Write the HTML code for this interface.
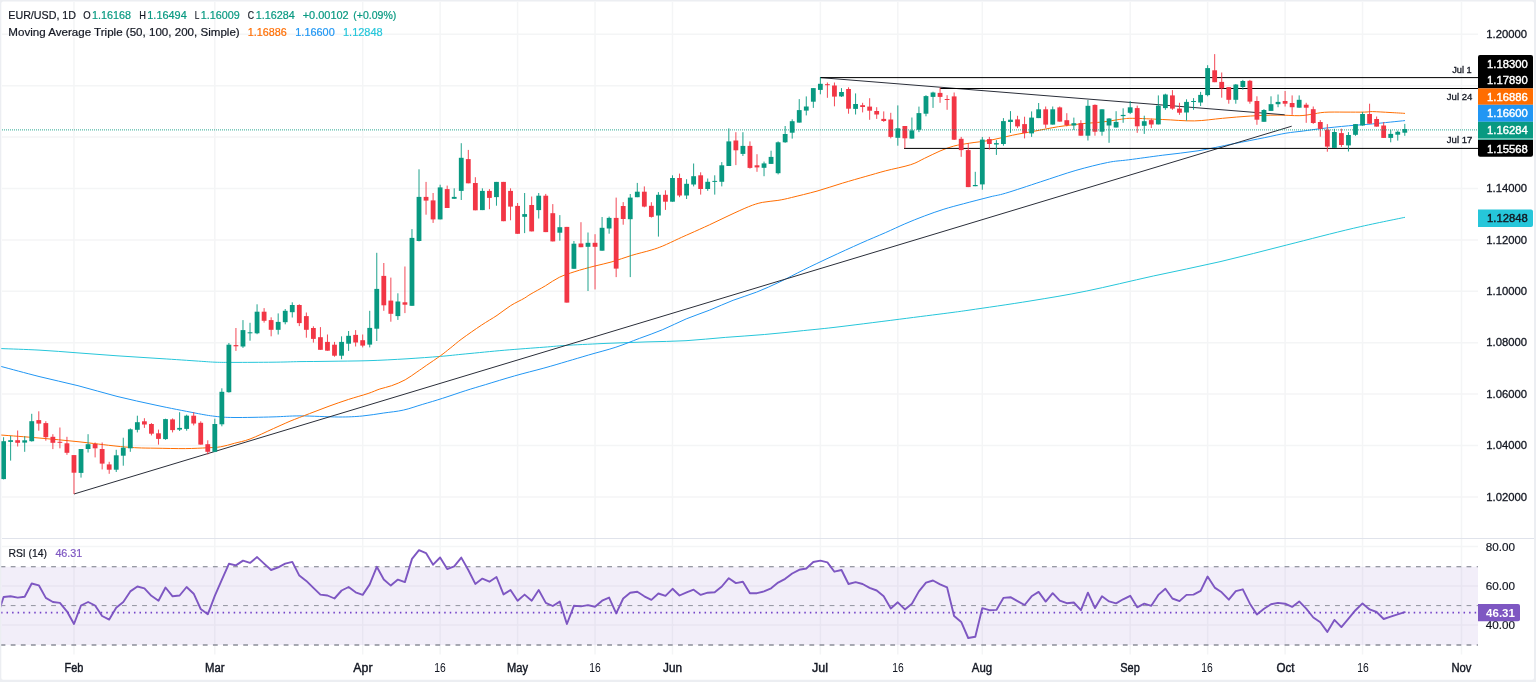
<!DOCTYPE html>
<html><head><meta charset="utf-8"><title>EUR/USD</title>
<style>html,body{margin:0;padding:0;background:#fff;}body{width:1536px;height:682px;overflow:hidden;position:relative;font-family:"Liberation Sans", sans-serif;}</style>
</head><body>
<div style="position:absolute;left:0;top:0;width:1536px;height:682px;will-change:transform">
<svg width="1536" height="682" viewBox="0 0 1536 682" style="position:absolute;left:0;top:0;font-family:'Liberation Sans',sans-serif">
<line x1="73.98" y1="2" x2="73.98" y2="654.5" stroke="#f4f5f6" stroke-width="1.5"/>
<line x1="214.81" y1="2" x2="214.81" y2="654.5" stroke="#f4f5f6" stroke-width="1.5"/>
<line x1="362.68" y1="2" x2="362.68" y2="654.5" stroke="#f4f5f6" stroke-width="1.5"/>
<line x1="440.13" y1="2" x2="440.13" y2="654.5" stroke="#f4f5f6" stroke-width="1.5"/>
<line x1="517.58" y1="2" x2="517.58" y2="654.5" stroke="#f4f5f6" stroke-width="1.5"/>
<line x1="595.04" y1="2" x2="595.04" y2="654.5" stroke="#f4f5f6" stroke-width="1.5"/>
<line x1="672.49" y1="2" x2="672.49" y2="654.5" stroke="#f4f5f6" stroke-width="1.5"/>
<line x1="820.36" y1="2" x2="820.36" y2="654.5" stroke="#f4f5f6" stroke-width="1.5"/>
<line x1="897.82" y1="2" x2="897.82" y2="654.5" stroke="#f4f5f6" stroke-width="1.5"/>
<line x1="982.31" y1="2" x2="982.31" y2="654.5" stroke="#f4f5f6" stroke-width="1.5"/>
<line x1="1130.18" y1="2" x2="1130.18" y2="654.5" stroke="#f4f5f6" stroke-width="1.5"/>
<line x1="1207.63" y1="2" x2="1207.63" y2="654.5" stroke="#f4f5f6" stroke-width="1.5"/>
<line x1="1285.09" y1="2" x2="1285.09" y2="654.5" stroke="#f4f5f6" stroke-width="1.5"/>
<line x1="1362.54" y1="2" x2="1362.54" y2="654.5" stroke="#f4f5f6" stroke-width="1.5"/>
<line x1="1461.50" y1="2" x2="1461.50" y2="654.5" stroke="#f4f5f6" stroke-width="1.5"/>
<line x1="2" y1="34.30" x2="1478" y2="34.30" stroke="#f4f5f6" stroke-width="1.5"/>
<line x1="2" y1="85.70" x2="1478" y2="85.70" stroke="#f4f5f6" stroke-width="1.5"/>
<line x1="2" y1="137.10" x2="1478" y2="137.10" stroke="#f4f5f6" stroke-width="1.5"/>
<line x1="2" y1="188.50" x2="1478" y2="188.50" stroke="#f4f5f6" stroke-width="1.5"/>
<line x1="2" y1="239.90" x2="1478" y2="239.90" stroke="#f4f5f6" stroke-width="1.5"/>
<line x1="2" y1="291.30" x2="1478" y2="291.30" stroke="#f4f5f6" stroke-width="1.5"/>
<line x1="2" y1="342.70" x2="1478" y2="342.70" stroke="#f4f5f6" stroke-width="1.5"/>
<line x1="2" y1="394.10" x2="1478" y2="394.10" stroke="#f4f5f6" stroke-width="1.5"/>
<line x1="2" y1="445.50" x2="1478" y2="445.50" stroke="#f4f5f6" stroke-width="1.5"/>
<line x1="2" y1="496.90" x2="1478" y2="496.90" stroke="#f4f5f6" stroke-width="1.5"/>
<line x1="2" y1="546.4" x2="1478" y2="546.4" stroke="#f4f5f6" stroke-width="1.5"/>
<line x1="2" y1="586.0" x2="1478" y2="586.0" stroke="#f4f5f6" stroke-width="1.5"/>
<line x1="2" y1="625.1" x2="1478" y2="625.1" stroke="#f4f5f6" stroke-width="1.5"/>
<rect x="2" y="538" width="1532" height="1" fill="#e0e3eb"/>
<rect x="1" y="566.8" width="1477" height="78.3" fill="#7e57c2" fill-opacity="0.1"/>
<line x1="1" y1="566.8" x2="1478" y2="566.8" stroke="#787b86" stroke-width="1.1" stroke-dasharray="4.8 5.31" stroke-dashoffset="0.4"/>
<line x1="1" y1="605.6" x2="1478" y2="605.6" stroke="#858893" stroke-width="0.9" stroke-dasharray="4.8 5.31" stroke-dashoffset="0.4"/>
<line x1="1" y1="645.1" x2="1478" y2="645.1" stroke="#8c8f99" stroke-width="1.5" stroke-dasharray="4.8 5.31" stroke-dashoffset="0.4"/>
<path d="M-2.0 348.5C-1.3 348.5 -4.8 348.3 2.0 348.6C8.8 348.9 26.3 349.4 39.0 350.1C51.7 350.8 65.0 351.9 78.0 352.9C91.0 353.8 104.0 354.9 117.0 355.8C130.0 356.7 143.0 357.5 156.0 358.3C169.0 359.1 185.2 360.2 195.0 360.9C204.8 361.5 208.5 361.9 215.0 362.2C221.5 362.4 224.3 362.4 234.0 362.4C243.7 362.4 262.0 362.3 273.0 362.2C284.0 362.1 290.7 361.8 300.0 361.6C309.3 361.5 317.7 361.5 329.0 361.3C340.3 361.1 355.0 361.1 368.0 360.7C381.0 360.3 394.9 359.5 407.0 358.8C419.1 358.0 430.6 357.2 440.4 356.4C450.2 355.6 455.1 354.9 465.8 353.9C476.5 352.9 491.8 351.3 504.8 350.2C517.8 349.1 533.2 348.0 543.9 347.2C554.6 346.4 558.3 345.8 569.0 345.2C579.7 344.6 595.0 343.9 608.0 343.3C621.0 342.8 634.0 342.3 647.0 341.9C660.0 341.5 673.0 341.4 686.0 340.7C699.0 339.9 712.2 338.4 725.3 337.4C738.4 336.4 751.4 335.6 764.4 334.5C777.4 333.4 790.8 331.9 803.4 330.6C816.0 329.3 822.8 328.8 840.0 326.7C857.2 324.6 888.0 320.7 906.7 318.3C925.4 315.9 941.5 313.9 952.0 312.5C962.5 311.1 957.0 311.9 970.0 310.0C983.0 308.1 1010.5 304.2 1030.0 301.0C1049.5 297.8 1066.2 295.2 1086.7 291.0C1107.2 286.8 1131.1 280.9 1153.3 276.0C1175.5 271.1 1197.8 266.9 1220.0 261.7C1242.2 256.5 1264.5 250.6 1286.7 245.0C1308.9 239.4 1333.6 232.9 1353.3 228.3C1373.0 223.7 1396.4 219.1 1405.0 217.3" fill="none" stroke="#26c6da" stroke-width="1.0" stroke-linejoin="round" stroke-linecap="butt"/>
<path d="M-2.0 365.7C-1.3 365.9 -4.8 364.9 2.0 366.7C8.8 368.5 26.3 373.3 39.0 376.5C51.7 379.7 65.0 382.4 78.0 385.7C91.0 389.0 104.0 393.1 117.0 396.4C130.0 399.6 143.0 402.4 156.0 405.2C169.0 408.0 185.2 411.1 195.0 413.0C204.8 414.9 208.5 415.6 215.0 416.3C221.5 417.1 224.3 417.4 234.0 417.5C243.7 417.6 262.0 417.2 273.0 416.9C284.0 416.6 289.0 415.9 300.0 415.9C311.0 415.9 328.4 417.0 338.8 417.0C349.2 417.0 354.8 416.7 362.3 416.0C369.8 415.3 376.9 414.0 383.8 413.0C390.6 412.0 396.8 411.6 403.3 410.1C409.8 408.7 416.3 406.2 422.8 404.3C429.3 402.4 435.1 400.7 442.3 398.4C449.5 396.1 458.6 392.9 465.8 390.6C473.0 388.3 477.2 387.1 485.3 384.7C493.4 382.2 504.8 378.7 514.6 375.9C524.4 373.1 535.1 370.5 543.9 368.1C552.7 365.7 559.8 363.5 567.3 361.3C574.8 359.1 580.5 357.4 588.6 355.0C596.7 352.6 607.4 350.0 615.9 347.2C624.4 344.4 631.6 341.3 639.4 338.4C647.2 335.5 655.0 332.9 662.8 329.6C670.6 326.4 678.4 322.1 686.2 318.9C694.1 315.6 701.9 313.2 709.7 310.1C717.5 307.0 725.3 303.3 733.1 300.3C740.9 297.3 748.8 295.2 756.6 292.1C764.4 289.0 772.2 285.5 780.0 281.8C787.8 278.1 795.1 274.1 803.4 270.0C811.7 265.9 820.4 261.8 830.0 257.3C839.6 252.8 851.7 247.3 860.9 243.2C870.1 239.1 878.0 235.9 885.3 232.7C892.6 229.5 898.3 226.7 904.8 223.9C911.3 221.1 917.9 218.4 924.4 216.0C930.9 213.6 937.4 211.2 943.9 209.2C950.4 207.2 955.7 205.8 963.4 203.8C971.1 201.7 983.0 198.7 990.0 196.9C997.0 195.1 997.1 195.7 1005.6 193.2C1014.1 190.7 1029.0 185.6 1040.7 181.8C1052.4 178.0 1064.8 173.6 1075.9 170.4C1087.1 167.2 1098.8 164.3 1107.6 162.5C1116.4 160.7 1119.5 161.0 1128.7 159.8C1137.9 158.6 1151.2 156.7 1162.8 155.2C1174.3 153.7 1186.3 152.7 1198.0 150.8C1209.7 148.9 1222.1 146.0 1233.2 143.8C1244.3 141.6 1256.0 139.4 1264.8 137.6C1273.6 135.8 1279.5 134.3 1285.9 133.2C1292.3 132.1 1297.4 131.8 1303.3 131.0C1309.2 130.2 1313.6 129.5 1321.1 128.6C1328.6 127.7 1339.8 126.6 1348.4 125.8C1357.0 125.0 1363.2 124.8 1372.6 123.9C1382.0 123.0 1399.6 121.1 1405.0 120.6" fill="none" stroke="#2196f3" stroke-width="1.0" stroke-linejoin="round" stroke-linecap="butt"/>
<path d="M-2.0 434.9C-1.3 434.9 -4.8 434.6 2.0 435.1C8.8 435.6 26.3 436.9 39.0 438.0C51.7 439.1 65.0 440.3 78.0 441.7C91.0 443.1 107.2 445.2 117.0 446.2C126.8 447.2 130.5 447.5 137.0 447.8C143.5 448.1 147.9 448.1 156.0 448.2C164.1 448.3 177.0 448.7 185.5 448.6C194.0 448.5 201.1 448.1 207.0 447.8C212.9 447.5 216.1 447.6 220.7 446.8C225.3 446.1 229.5 444.6 234.4 443.3C239.3 442.0 243.5 441.4 250.0 439.0C256.5 436.6 266.7 431.6 273.4 428.6C280.1 425.6 284.0 423.8 290.0 421.2C296.0 418.8 303.0 416.1 309.5 413.6C316.0 411.1 322.5 408.6 329.0 406.2C335.5 403.8 342.1 401.5 348.6 399.4C355.1 397.3 362.9 395.2 368.1 393.5C373.3 391.8 375.9 390.3 379.8 389.0C383.7 387.7 387.4 387.2 391.6 385.7C395.8 384.2 401.0 382.1 405.2 379.8C409.4 377.5 413.3 374.4 416.9 372.0C420.5 369.6 422.8 367.9 426.7 365.2C430.6 362.5 436.5 358.6 440.4 355.8C444.3 353.0 446.6 351.0 450.2 348.2C453.8 345.4 456.7 342.6 461.9 338.8C467.1 335.0 475.5 329.1 481.4 325.2C487.2 321.3 492.1 318.7 497.0 315.4C501.9 312.1 506.1 308.5 510.7 305.6C515.3 302.7 521.2 300.1 524.4 298.2C527.6 296.3 526.5 296.6 530.0 294.5C533.5 292.4 540.7 288.6 545.6 285.7C550.5 282.8 554.4 279.6 559.3 277.3C564.2 275.0 569.0 273.5 574.9 271.6C580.8 269.7 588.3 267.7 594.5 266.1C600.7 264.5 605.8 263.6 612.0 261.8C618.2 260.0 625.1 257.4 631.6 255.4C638.1 253.4 645.9 251.7 651.1 250.1C656.3 248.5 658.2 247.9 662.8 246.0C667.3 244.1 673.9 240.9 678.4 238.8C682.9 236.7 684.8 235.9 690.0 233.6C695.2 231.3 703.0 227.8 709.5 224.8C716.0 221.8 722.5 218.5 729.0 215.5C735.5 212.5 743.1 208.9 748.6 206.7C754.1 204.5 757.4 203.4 762.3 202.4C767.2 201.4 773.0 201.2 777.9 200.4C782.8 199.6 785.1 199.1 791.6 197.5C798.1 195.9 808.5 193.4 817.0 191.1C825.5 188.7 834.2 185.6 842.3 183.2C850.4 180.8 858.6 178.4 865.8 176.4C873.0 174.4 877.8 172.9 885.3 170.9C892.8 168.9 904.2 166.8 910.7 164.7C917.2 162.6 919.5 160.7 924.4 158.4C929.3 156.1 935.1 153.1 940.0 151.0C944.9 148.9 948.8 147.4 953.7 146.1C958.6 144.8 963.2 144.2 969.3 143.2C975.3 142.2 982.8 141.6 990.0 140.3C997.2 139.0 1005.3 136.7 1012.6 135.2C1019.9 133.7 1026.1 132.7 1033.7 131.3C1041.3 129.9 1050.4 128.0 1058.3 126.7C1066.2 125.5 1073.9 124.6 1081.2 123.8C1088.5 123.0 1095.8 122.7 1102.3 122.0C1108.8 121.3 1114.9 120.0 1119.9 119.4C1124.9 118.8 1125.1 118.3 1132.2 118.3C1139.3 118.3 1152.4 119.1 1162.8 119.5C1173.2 119.9 1184.4 121.1 1194.4 120.9C1204.4 120.7 1213.2 119.1 1222.6 118.3C1232.0 117.5 1241.6 116.5 1250.7 116.0C1259.8 115.5 1269.0 115.1 1277.1 115.1C1285.2 115.0 1293.3 115.8 1299.1 115.7C1304.9 115.6 1307.8 114.8 1312.0 114.2C1316.2 113.6 1318.9 112.7 1324.4 112.3C1329.9 111.9 1338.3 112.1 1345.0 112.1C1351.7 112.1 1359.9 112.2 1364.5 112.1C1369.1 112.0 1368.3 111.5 1372.6 111.6C1376.8 111.7 1384.6 112.2 1390.0 112.5C1395.4 112.8 1402.5 113.2 1405.0 113.4" fill="none" stroke="#ff6d00" stroke-width="1.0" stroke-linejoin="round" stroke-linecap="butt"/>
<line x1="74" y1="494" x2="1291.7" y2="126.2" stroke="#2a2e39" stroke-width="1"/>
<line x1="820" y1="77.6" x2="1284.7" y2="114.8" stroke="#2a2e39" stroke-width="1"/>
<rect x="820" y="77.1" width="658" height="1" fill="#000"/>
<rect x="940" y="88" width="538" height="1" fill="#000"/>
<rect x="904" y="147.9" width="574" height="1" fill="#000"/>
<g>
<rect x="3.07" y="437.2" width="1" height="42.2" fill="#089981" fill-opacity="0.9"/>
<rect x="1.17" y="441.2" width="4.8" height="37.9" fill="#089981"/>
<rect x="10.11" y="435.9" width="1" height="24.7" fill="#089981" fill-opacity="0.9"/>
<rect x="8.21" y="440.2" width="4.8" height="1.7" fill="#089981"/>
<rect x="17.15" y="430.5" width="1" height="16.0" fill="#f23645" fill-opacity="0.9"/>
<rect x="15.25" y="440.2" width="4.8" height="2.6" fill="#f23645"/>
<rect x="24.19" y="436.3" width="1" height="15.5" fill="#089981" fill-opacity="0.9"/>
<rect x="22.29" y="440.3" width="4.8" height="2.3" fill="#089981"/>
<rect x="31.24" y="413.8" width="1" height="27.8" fill="#089981" fill-opacity="0.9"/>
<rect x="29.34" y="421.2" width="4.8" height="20.0" fill="#089981"/>
<rect x="38.28" y="411.3" width="1" height="19.4" fill="#f23645" fill-opacity="0.9"/>
<rect x="36.38" y="420.1" width="4.8" height="3.5" fill="#f23645"/>
<rect x="45.32" y="421.2" width="1" height="19.5" fill="#f23645" fill-opacity="0.9"/>
<rect x="43.42" y="423.1" width="4.8" height="14.1" fill="#f23645"/>
<rect x="52.36" y="434.2" width="1" height="14.9" fill="#f23645" fill-opacity="0.9"/>
<rect x="50.46" y="436.8" width="4.8" height="6.0" fill="#f23645"/>
<rect x="59.40" y="427.5" width="1" height="20.8" fill="#f23645" fill-opacity="0.9"/>
<rect x="57.50" y="441.8" width="4.8" height="1.0" fill="#f23645"/>
<rect x="66.44" y="436.8" width="1" height="18.0" fill="#f23645" fill-opacity="0.9"/>
<rect x="64.54" y="443.3" width="4.8" height="9.5" fill="#f23645"/>
<rect x="73.48" y="455.1" width="1" height="38.9" fill="#f23645" fill-opacity="0.9"/>
<rect x="71.58" y="455.1" width="4.8" height="17.6" fill="#f23645"/>
<rect x="80.52" y="449.0" width="1" height="28.6" fill="#089981" fill-opacity="0.9"/>
<rect x="78.62" y="449.0" width="4.8" height="23.9" fill="#089981"/>
<rect x="87.57" y="434.2" width="1" height="18.3" fill="#089981" fill-opacity="0.9"/>
<rect x="85.67" y="444.2" width="4.8" height="4.8" fill="#089981"/>
<rect x="94.61" y="442.5" width="1" height="14.9" fill="#f23645" fill-opacity="0.9"/>
<rect x="92.71" y="443.9" width="4.8" height="4.4" fill="#f23645"/>
<rect x="101.65" y="442.5" width="1" height="26.9" fill="#f23645" fill-opacity="0.9"/>
<rect x="99.75" y="449.0" width="4.8" height="14.6" fill="#f23645"/>
<rect x="108.69" y="461.8" width="1" height="12.0" fill="#f23645" fill-opacity="0.9"/>
<rect x="106.79" y="464.4" width="4.8" height="5.3" fill="#f23645"/>
<rect x="115.73" y="449.8" width="1" height="22.2" fill="#089981" fill-opacity="0.9"/>
<rect x="113.83" y="455.3" width="4.8" height="14.4" fill="#089981"/>
<rect x="122.77" y="437.7" width="1" height="28.0" fill="#089981" fill-opacity="0.9"/>
<rect x="120.87" y="447.7" width="4.8" height="8.0" fill="#089981"/>
<rect x="129.81" y="428.4" width="1" height="23.4" fill="#089981" fill-opacity="0.9"/>
<rect x="127.91" y="429.3" width="4.8" height="19.0" fill="#089981"/>
<rect x="136.85" y="415.7" width="1" height="16.7" fill="#089981" fill-opacity="0.9"/>
<rect x="134.95" y="422.2" width="4.8" height="7.6" fill="#089981"/>
<rect x="143.90" y="418.2" width="1" height="9.7" fill="#f23645" fill-opacity="0.9"/>
<rect x="142.00" y="421.3" width="4.8" height="3.2" fill="#f23645"/>
<rect x="150.94" y="423.1" width="1" height="12.3" fill="#f23645" fill-opacity="0.9"/>
<rect x="149.04" y="424.0" width="4.8" height="9.7" fill="#f23645"/>
<rect x="157.98" y="429.6" width="1" height="15.0" fill="#f23645" fill-opacity="0.9"/>
<rect x="156.08" y="433.3" width="4.8" height="5.6" fill="#f23645"/>
<rect x="165.02" y="418.7" width="1" height="21.1" fill="#089981" fill-opacity="0.9"/>
<rect x="163.12" y="419.1" width="4.8" height="20.0" fill="#089981"/>
<rect x="172.06" y="418.4" width="1" height="14.0" fill="#f23645" fill-opacity="0.9"/>
<rect x="170.16" y="419.4" width="4.8" height="10.7" fill="#f23645"/>
<rect x="179.10" y="412.2" width="1" height="18.8" fill="#089981" fill-opacity="0.9"/>
<rect x="177.20" y="427.9" width="4.8" height="1.7" fill="#089981"/>
<rect x="186.14" y="414.7" width="1" height="16.0" fill="#089981" fill-opacity="0.9"/>
<rect x="184.24" y="415.7" width="4.8" height="13.2" fill="#089981"/>
<rect x="193.19" y="412.2" width="1" height="13.2" fill="#f23645" fill-opacity="0.9"/>
<rect x="191.29" y="415.7" width="4.8" height="7.8" fill="#f23645"/>
<rect x="200.23" y="421.3" width="1" height="23.3" fill="#f23645" fill-opacity="0.9"/>
<rect x="198.33" y="422.8" width="4.8" height="21.8" fill="#f23645"/>
<rect x="207.27" y="440.3" width="1" height="14.1" fill="#f23645" fill-opacity="0.9"/>
<rect x="205.37" y="444.2" width="4.8" height="7.6" fill="#f23645"/>
<rect x="214.31" y="418.7" width="1" height="33.4" fill="#089981" fill-opacity="0.9"/>
<rect x="212.41" y="424.0" width="4.8" height="27.8" fill="#089981"/>
<rect x="221.35" y="388.3" width="1" height="38.0" fill="#089981" fill-opacity="0.9"/>
<rect x="219.45" y="391.8" width="4.8" height="32.5" fill="#089981"/>
<rect x="228.39" y="343.0" width="1" height="49.6" fill="#089981" fill-opacity="0.9"/>
<rect x="226.49" y="344.7" width="4.8" height="47.5" fill="#089981"/>
<rect x="235.43" y="328.0" width="1" height="22.9" fill="#f23645" fill-opacity="0.9"/>
<rect x="233.53" y="345.1" width="4.8" height="1.2" fill="#f23645"/>
<rect x="242.47" y="320.1" width="1" height="27.8" fill="#089981" fill-opacity="0.9"/>
<rect x="240.57" y="330.1" width="4.8" height="16.4" fill="#089981"/>
<rect x="249.52" y="322.8" width="1" height="17.9" fill="#089981" fill-opacity="0.9"/>
<rect x="247.62" y="332.3" width="4.8" height="1.0" fill="#089981"/>
<rect x="256.56" y="304.3" width="1" height="29.9" fill="#089981" fill-opacity="0.9"/>
<rect x="254.66" y="311.7" width="4.8" height="21.6" fill="#089981"/>
<rect x="263.60" y="308.1" width="1" height="14.5" fill="#f23645" fill-opacity="0.9"/>
<rect x="261.70" y="311.7" width="4.8" height="9.1" fill="#f23645"/>
<rect x="270.64" y="317.3" width="1" height="19.0" fill="#f23645" fill-opacity="0.9"/>
<rect x="268.74" y="320.1" width="4.8" height="9.7" fill="#f23645"/>
<rect x="277.68" y="313.4" width="1" height="21.1" fill="#089981" fill-opacity="0.9"/>
<rect x="275.78" y="321.9" width="4.8" height="7.9" fill="#089981"/>
<rect x="284.72" y="309.0" width="1" height="15.3" fill="#089981" fill-opacity="0.9"/>
<rect x="282.82" y="310.8" width="4.8" height="11.4" fill="#089981"/>
<rect x="291.76" y="302.3" width="1" height="15.2" fill="#089981" fill-opacity="0.9"/>
<rect x="289.86" y="305.0" width="4.8" height="7.2" fill="#089981"/>
<rect x="298.80" y="304.3" width="1" height="21.8" fill="#f23645" fill-opacity="0.9"/>
<rect x="296.90" y="305.0" width="4.8" height="18.1" fill="#f23645"/>
<rect x="305.85" y="312.5" width="1" height="25.2" fill="#f23645" fill-opacity="0.9"/>
<rect x="303.95" y="316.1" width="4.8" height="13.7" fill="#f23645"/>
<rect x="312.89" y="326.3" width="1" height="16.3" fill="#f23645" fill-opacity="0.9"/>
<rect x="310.99" y="328.0" width="4.8" height="10.9" fill="#f23645"/>
<rect x="319.93" y="327.1" width="1" height="22.7" fill="#f23645" fill-opacity="0.9"/>
<rect x="318.03" y="337.2" width="4.8" height="12.6" fill="#f23645"/>
<rect x="326.97" y="334.5" width="1" height="16.2" fill="#f23645" fill-opacity="0.9"/>
<rect x="325.07" y="341.9" width="4.8" height="8.8" fill="#f23645"/>
<rect x="334.01" y="341.9" width="1" height="14.8" fill="#f23645" fill-opacity="0.9"/>
<rect x="332.11" y="344.7" width="4.8" height="11.0" fill="#f23645"/>
<rect x="341.05" y="336.3" width="1" height="22.9" fill="#089981" fill-opacity="0.9"/>
<rect x="339.15" y="341.9" width="4.8" height="13.8" fill="#089981"/>
<rect x="348.09" y="331.0" width="1" height="19.9" fill="#089981" fill-opacity="0.9"/>
<rect x="346.19" y="335.8" width="4.8" height="7.9" fill="#089981"/>
<rect x="355.13" y="330.1" width="1" height="16.4" fill="#f23645" fill-opacity="0.9"/>
<rect x="353.24" y="334.9" width="4.8" height="7.6" fill="#f23645"/>
<rect x="362.18" y="334.5" width="1" height="12.9" fill="#f23645" fill-opacity="0.9"/>
<rect x="360.28" y="340.2" width="4.8" height="5.4" fill="#f23645"/>
<rect x="369.22" y="310.8" width="1" height="36.6" fill="#089981" fill-opacity="0.9"/>
<rect x="367.32" y="327.9" width="4.8" height="16.7" fill="#089981"/>
<rect x="376.26" y="252.8" width="1" height="88.2" fill="#089981" fill-opacity="0.9"/>
<rect x="374.36" y="288.9" width="4.8" height="39.8" fill="#089981"/>
<rect x="383.30" y="263.0" width="1" height="47.8" fill="#f23645" fill-opacity="0.9"/>
<rect x="381.40" y="275.9" width="4.8" height="29.4" fill="#f23645"/>
<rect x="390.34" y="277.6" width="1" height="44.1" fill="#f23645" fill-opacity="0.9"/>
<rect x="388.44" y="300.6" width="4.8" height="13.2" fill="#f23645"/>
<rect x="397.38" y="293.3" width="1" height="26.6" fill="#089981" fill-opacity="0.9"/>
<rect x="395.48" y="301.5" width="4.8" height="14.6" fill="#089981"/>
<rect x="404.42" y="266.5" width="1" height="46.6" fill="#f23645" fill-opacity="0.9"/>
<rect x="402.52" y="302.3" width="4.8" height="2.4" fill="#f23645"/>
<rect x="411.47" y="229.1" width="1" height="76.7" fill="#089981" fill-opacity="0.9"/>
<rect x="409.57" y="237.9" width="4.8" height="67.9" fill="#089981"/>
<rect x="418.51" y="169.3" width="1" height="72.1" fill="#089981" fill-opacity="0.9"/>
<rect x="416.61" y="196.9" width="4.8" height="44.1" fill="#089981"/>
<rect x="425.55" y="181.9" width="1" height="32.8" fill="#f23645" fill-opacity="0.9"/>
<rect x="423.65" y="196.9" width="4.8" height="3.7" fill="#f23645"/>
<rect x="432.59" y="193.0" width="1" height="29.9" fill="#f23645" fill-opacity="0.9"/>
<rect x="430.69" y="200.4" width="4.8" height="19.0" fill="#f23645"/>
<rect x="439.63" y="184.7" width="1" height="34.7" fill="#089981" fill-opacity="0.9"/>
<rect x="437.73" y="187.4" width="4.8" height="32.0" fill="#089981"/>
<rect x="446.67" y="185.6" width="1" height="22.4" fill="#f23645" fill-opacity="0.9"/>
<rect x="444.77" y="189.1" width="4.8" height="18.9" fill="#f23645"/>
<rect x="453.71" y="188.3" width="1" height="10.5" fill="#089981" fill-opacity="0.9"/>
<rect x="451.81" y="196.9" width="4.8" height="1.9" fill="#089981"/>
<rect x="460.75" y="143.2" width="1" height="56.8" fill="#089981" fill-opacity="0.9"/>
<rect x="458.85" y="157.8" width="4.8" height="33.1" fill="#089981"/>
<rect x="467.80" y="149.9" width="1" height="33.4" fill="#f23645" fill-opacity="0.9"/>
<rect x="465.90" y="159.1" width="4.8" height="24.2" fill="#f23645"/>
<rect x="474.84" y="177.2" width="1" height="33.1" fill="#f23645" fill-opacity="0.9"/>
<rect x="472.94" y="183.0" width="4.8" height="27.3" fill="#f23645"/>
<rect x="481.88" y="188.3" width="1" height="21.8" fill="#089981" fill-opacity="0.9"/>
<rect x="479.98" y="190.9" width="4.8" height="19.2" fill="#089981"/>
<rect x="488.92" y="189.1" width="1" height="20.1" fill="#f23645" fill-opacity="0.9"/>
<rect x="487.02" y="190.9" width="4.8" height="7.0" fill="#f23645"/>
<rect x="495.96" y="181.9" width="1" height="23.8" fill="#089981" fill-opacity="0.9"/>
<rect x="494.06" y="181.9" width="4.8" height="15.2" fill="#089981"/>
<rect x="503.00" y="181.9" width="1" height="39.3" fill="#f23645" fill-opacity="0.9"/>
<rect x="501.10" y="181.9" width="4.8" height="39.3" fill="#f23645"/>
<rect x="510.04" y="188.3" width="1" height="32.0" fill="#f23645" fill-opacity="0.9"/>
<rect x="508.14" y="190.9" width="4.8" height="15.7" fill="#f23645"/>
<rect x="517.08" y="203.0" width="1" height="30.8" fill="#f23645" fill-opacity="0.9"/>
<rect x="515.18" y="205.9" width="4.8" height="27.9" fill="#f23645"/>
<rect x="524.13" y="193.0" width="1" height="40.1" fill="#089981" fill-opacity="0.9"/>
<rect x="522.23" y="214.1" width="4.8" height="2.7" fill="#089981"/>
<rect x="531.17" y="196.5" width="1" height="34.9" fill="#f23645" fill-opacity="0.9"/>
<rect x="529.27" y="205.0" width="4.8" height="26.4" fill="#f23645"/>
<rect x="538.21" y="193.0" width="1" height="25.5" fill="#089981" fill-opacity="0.9"/>
<rect x="536.31" y="195.7" width="4.8" height="14.4" fill="#089981"/>
<rect x="545.25" y="193.9" width="1" height="38.2" fill="#f23645" fill-opacity="0.9"/>
<rect x="543.35" y="195.7" width="4.8" height="36.4" fill="#f23645"/>
<rect x="552.29" y="204.1" width="1" height="37.3" fill="#f23645" fill-opacity="0.9"/>
<rect x="550.39" y="213.2" width="4.8" height="28.2" fill="#f23645"/>
<rect x="559.33" y="215.1" width="1" height="25.6" fill="#089981" fill-opacity="0.9"/>
<rect x="557.43" y="227.2" width="4.8" height="5.5" fill="#089981"/>
<rect x="566.37" y="226.9" width="1" height="75.7" fill="#f23645" fill-opacity="0.9"/>
<rect x="564.47" y="226.9" width="4.8" height="75.7" fill="#f23645"/>
<rect x="573.42" y="241.0" width="1" height="27.8" fill="#089981" fill-opacity="0.9"/>
<rect x="571.52" y="243.7" width="4.8" height="25.1" fill="#089981"/>
<rect x="580.46" y="222.2" width="1" height="25.0" fill="#f23645" fill-opacity="0.9"/>
<rect x="578.56" y="243.5" width="4.8" height="3.7" fill="#f23645"/>
<rect x="587.50" y="232.5" width="1" height="58.5" fill="#089981" fill-opacity="0.9"/>
<rect x="585.60" y="242.8" width="4.8" height="4.0" fill="#089981"/>
<rect x="594.54" y="234.2" width="1" height="55.2" fill="#f23645" fill-opacity="0.9"/>
<rect x="592.64" y="242.8" width="4.8" height="4.0" fill="#f23645"/>
<rect x="601.58" y="217.0" width="1" height="33.7" fill="#089981" fill-opacity="0.9"/>
<rect x="599.68" y="227.8" width="4.8" height="22.9" fill="#089981"/>
<rect x="608.62" y="216.6" width="1" height="17.1" fill="#089981" fill-opacity="0.9"/>
<rect x="606.72" y="217.9" width="4.8" height="10.6" fill="#089981"/>
<rect x="615.66" y="197.6" width="1" height="79.5" fill="#f23645" fill-opacity="0.9"/>
<rect x="613.76" y="217.9" width="4.8" height="50.7" fill="#f23645"/>
<rect x="622.70" y="202.1" width="1" height="22.6" fill="#f23645" fill-opacity="0.9"/>
<rect x="620.80" y="206.0" width="4.8" height="13.0" fill="#f23645"/>
<rect x="629.75" y="194.0" width="1" height="83.1" fill="#089981" fill-opacity="0.9"/>
<rect x="627.85" y="197.6" width="4.8" height="21.6" fill="#089981"/>
<rect x="636.79" y="182.9" width="1" height="14.3" fill="#089981" fill-opacity="0.9"/>
<rect x="634.89" y="191.7" width="4.8" height="5.5" fill="#089981"/>
<rect x="643.83" y="186.4" width="1" height="20.9" fill="#f23645" fill-opacity="0.9"/>
<rect x="641.93" y="191.7" width="4.8" height="14.9" fill="#f23645"/>
<rect x="650.87" y="202.2" width="1" height="15.4" fill="#f23645" fill-opacity="0.9"/>
<rect x="648.97" y="205.8" width="4.8" height="11.1" fill="#f23645"/>
<rect x="657.91" y="192.1" width="1" height="44.5" fill="#089981" fill-opacity="0.9"/>
<rect x="656.01" y="194.8" width="4.8" height="20.7" fill="#089981"/>
<rect x="664.95" y="190.3" width="1" height="19.6" fill="#f23645" fill-opacity="0.9"/>
<rect x="663.05" y="194.8" width="4.8" height="6.9" fill="#f23645"/>
<rect x="671.99" y="175.3" width="1" height="26.4" fill="#089981" fill-opacity="0.9"/>
<rect x="670.09" y="178.0" width="4.8" height="23.7" fill="#089981"/>
<rect x="679.03" y="173.6" width="1" height="23.6" fill="#f23645" fill-opacity="0.9"/>
<rect x="677.13" y="178.0" width="4.8" height="17.5" fill="#f23645"/>
<rect x="686.08" y="179.2" width="1" height="19.8" fill="#089981" fill-opacity="0.9"/>
<rect x="684.18" y="183.8" width="4.8" height="11.7" fill="#089981"/>
<rect x="693.12" y="163.5" width="1" height="22.9" fill="#089981" fill-opacity="0.9"/>
<rect x="691.22" y="176.2" width="4.8" height="8.3" fill="#089981"/>
<rect x="700.16" y="172.3" width="1" height="22.3" fill="#f23645" fill-opacity="0.9"/>
<rect x="698.26" y="175.3" width="4.8" height="13.7" fill="#f23645"/>
<rect x="707.20" y="178.5" width="1" height="12.3" fill="#089981" fill-opacity="0.9"/>
<rect x="705.30" y="181.8" width="4.8" height="7.2" fill="#089981"/>
<rect x="714.24" y="175.3" width="1" height="19.3" fill="#089981" fill-opacity="0.9"/>
<rect x="712.34" y="180.9" width="4.8" height="1.0" fill="#089981"/>
<rect x="721.28" y="162.1" width="1" height="24.3" fill="#089981" fill-opacity="0.9"/>
<rect x="719.38" y="165.3" width="4.8" height="16.5" fill="#089981"/>
<rect x="728.32" y="128.4" width="1" height="37.6" fill="#089981" fill-opacity="0.9"/>
<rect x="726.42" y="141.4" width="4.8" height="24.6" fill="#089981"/>
<rect x="735.37" y="132.2" width="1" height="32.9" fill="#f23645" fill-opacity="0.9"/>
<rect x="733.47" y="140.5" width="4.8" height="9.8" fill="#f23645"/>
<rect x="742.41" y="132.2" width="1" height="23.8" fill="#089981" fill-opacity="0.9"/>
<rect x="740.51" y="145.9" width="4.8" height="8.0" fill="#089981"/>
<rect x="749.45" y="141.4" width="1" height="27.2" fill="#f23645" fill-opacity="0.9"/>
<rect x="747.55" y="145.9" width="4.8" height="22.0" fill="#f23645"/>
<rect x="756.49" y="154.2" width="1" height="17.6" fill="#f23645" fill-opacity="0.9"/>
<rect x="754.59" y="165.3" width="4.8" height="2.1" fill="#f23645"/>
<rect x="763.53" y="161.6" width="1" height="14.6" fill="#089981" fill-opacity="0.9"/>
<rect x="761.63" y="163.4" width="4.8" height="4.4" fill="#089981"/>
<rect x="770.57" y="150.7" width="1" height="13.2" fill="#089981" fill-opacity="0.9"/>
<rect x="768.67" y="156.9" width="4.8" height="7.0" fill="#089981"/>
<rect x="777.61" y="141.4" width="1" height="33.0" fill="#089981" fill-opacity="0.9"/>
<rect x="775.71" y="142.3" width="4.8" height="30.9" fill="#089981"/>
<rect x="784.65" y="126.0" width="1" height="16.8" fill="#089981" fill-opacity="0.9"/>
<rect x="782.75" y="134.0" width="4.8" height="8.3" fill="#089981"/>
<rect x="791.70" y="119.3" width="1" height="19.3" fill="#089981" fill-opacity="0.9"/>
<rect x="789.80" y="121.2" width="4.8" height="11.5" fill="#089981"/>
<rect x="798.74" y="99.1" width="1" height="23.5" fill="#089981" fill-opacity="0.9"/>
<rect x="796.84" y="110.1" width="4.8" height="12.5" fill="#089981"/>
<rect x="805.78" y="96.4" width="1" height="19.0" fill="#089981" fill-opacity="0.9"/>
<rect x="803.88" y="106.5" width="4.8" height="4.1" fill="#089981"/>
<rect x="812.82" y="88.1" width="1" height="19.8" fill="#089981" fill-opacity="0.9"/>
<rect x="810.92" y="88.1" width="4.8" height="13.6" fill="#089981"/>
<rect x="819.86" y="77.2" width="1" height="17.1" fill="#089981" fill-opacity="0.9"/>
<rect x="817.96" y="83.8" width="4.8" height="6.1" fill="#089981"/>
<rect x="826.90" y="82.5" width="1" height="15.3" fill="#f23645" fill-opacity="0.9"/>
<rect x="825.00" y="84.2" width="4.8" height="1.0" fill="#f23645"/>
<rect x="833.94" y="82.5" width="1" height="23.8" fill="#f23645" fill-opacity="0.9"/>
<rect x="832.04" y="85.5" width="4.8" height="11.1" fill="#f23645"/>
<rect x="840.98" y="88.1" width="1" height="8.9" fill="#089981" fill-opacity="0.9"/>
<rect x="839.08" y="92.0" width="4.8" height="4.4" fill="#089981"/>
<rect x="848.03" y="87.3" width="1" height="26.4" fill="#f23645" fill-opacity="0.9"/>
<rect x="846.13" y="89.0" width="4.8" height="19.7" fill="#f23645"/>
<rect x="855.07" y="93.4" width="1" height="21.1" fill="#089981" fill-opacity="0.9"/>
<rect x="853.17" y="104.0" width="4.8" height="4.9" fill="#089981"/>
<rect x="862.11" y="102.8" width="1" height="9.6" fill="#f23645" fill-opacity="0.9"/>
<rect x="860.21" y="105.2" width="4.8" height="1.8" fill="#f23645"/>
<rect x="869.15" y="98.2" width="1" height="21.6" fill="#f23645" fill-opacity="0.9"/>
<rect x="867.25" y="106.6" width="4.8" height="4.1" fill="#f23645"/>
<rect x="876.19" y="107.2" width="1" height="11.7" fill="#f23645" fill-opacity="0.9"/>
<rect x="874.29" y="111.0" width="4.8" height="3.5" fill="#f23645"/>
<rect x="883.23" y="111.4" width="1" height="10.5" fill="#f23645" fill-opacity="0.9"/>
<rect x="881.33" y="118.9" width="4.8" height="2.1" fill="#f23645"/>
<rect x="890.27" y="112.8" width="1" height="25.5" fill="#f23645" fill-opacity="0.9"/>
<rect x="888.37" y="119.5" width="4.8" height="17.4" fill="#f23645"/>
<rect x="897.32" y="105.4" width="1" height="40.3" fill="#089981" fill-opacity="0.9"/>
<rect x="895.42" y="128.3" width="4.8" height="9.5" fill="#089981"/>
<rect x="904.36" y="126.0" width="1" height="22.3" fill="#f23645" fill-opacity="0.9"/>
<rect x="902.46" y="126.0" width="4.8" height="12.3" fill="#f23645"/>
<rect x="911.40" y="117.5" width="1" height="21.1" fill="#089981" fill-opacity="0.9"/>
<rect x="909.50" y="130.4" width="4.8" height="8.2" fill="#089981"/>
<rect x="918.44" y="106.6" width="1" height="25.5" fill="#089981" fill-opacity="0.9"/>
<rect x="916.54" y="113.1" width="4.8" height="16.7" fill="#089981"/>
<rect x="925.48" y="95.2" width="1" height="21.1" fill="#089981" fill-opacity="0.9"/>
<rect x="923.58" y="96.1" width="4.8" height="17.6" fill="#089981"/>
<rect x="932.52" y="91.7" width="1" height="16.2" fill="#089981" fill-opacity="0.9"/>
<rect x="930.62" y="92.5" width="4.8" height="4.4" fill="#089981"/>
<rect x="939.56" y="87.6" width="1" height="15.2" fill="#f23645" fill-opacity="0.9"/>
<rect x="937.66" y="92.9" width="4.8" height="4.0" fill="#f23645"/>
<rect x="946.60" y="95.2" width="1" height="14.6" fill="#f23645" fill-opacity="0.9"/>
<rect x="944.70" y="99.0" width="4.8" height="1.0" fill="#f23645"/>
<rect x="953.65" y="92.5" width="1" height="47.5" fill="#f23645" fill-opacity="0.9"/>
<rect x="951.75" y="96.4" width="4.8" height="43.3" fill="#f23645"/>
<rect x="960.69" y="136.9" width="1" height="19.9" fill="#f23645" fill-opacity="0.9"/>
<rect x="958.79" y="138.8" width="4.8" height="11.3" fill="#f23645"/>
<rect x="967.73" y="143.1" width="1" height="44.0" fill="#f23645" fill-opacity="0.9"/>
<rect x="965.83" y="150.1" width="4.8" height="37.0" fill="#f23645"/>
<rect x="974.77" y="171.8" width="1" height="14.4" fill="#089981" fill-opacity="0.9"/>
<rect x="972.87" y="185.0" width="4.8" height="1.2" fill="#089981"/>
<rect x="981.81" y="136.9" width="1" height="52.8" fill="#089981" fill-opacity="0.9"/>
<rect x="979.91" y="139.6" width="4.8" height="44.8" fill="#089981"/>
<rect x="988.85" y="136.9" width="1" height="12.7" fill="#f23645" fill-opacity="0.9"/>
<rect x="986.95" y="139.1" width="4.8" height="4.9" fill="#f23645"/>
<rect x="995.89" y="140.1" width="1" height="14.8" fill="#089981" fill-opacity="0.9"/>
<rect x="993.99" y="143.1" width="4.8" height="1.4" fill="#089981"/>
<rect x="1002.93" y="118.1" width="1" height="27.6" fill="#089981" fill-opacity="0.9"/>
<rect x="1001.03" y="121.1" width="4.8" height="22.9" fill="#089981"/>
<rect x="1009.98" y="111.1" width="1" height="21.8" fill="#089981" fill-opacity="0.9"/>
<rect x="1008.08" y="119.7" width="4.8" height="2.3" fill="#089981"/>
<rect x="1017.02" y="115.8" width="1" height="12.3" fill="#f23645" fill-opacity="0.9"/>
<rect x="1015.12" y="119.4" width="4.8" height="7.0" fill="#f23645"/>
<rect x="1024.06" y="116.7" width="1" height="21.7" fill="#f23645" fill-opacity="0.9"/>
<rect x="1022.16" y="124.1" width="4.8" height="9.0" fill="#f23645"/>
<rect x="1031.10" y="111.4" width="1" height="25.5" fill="#089981" fill-opacity="0.9"/>
<rect x="1029.20" y="117.6" width="4.8" height="15.8" fill="#089981"/>
<rect x="1038.14" y="103.0" width="1" height="15.1" fill="#089981" fill-opacity="0.9"/>
<rect x="1036.24" y="109.3" width="4.8" height="8.8" fill="#089981"/>
<rect x="1045.18" y="106.5" width="1" height="21.6" fill="#f23645" fill-opacity="0.9"/>
<rect x="1043.28" y="109.3" width="4.8" height="15.3" fill="#f23645"/>
<rect x="1052.22" y="106.5" width="1" height="18.1" fill="#089981" fill-opacity="0.9"/>
<rect x="1050.32" y="109.3" width="4.8" height="15.3" fill="#089981"/>
<rect x="1059.26" y="106.5" width="1" height="15.1" fill="#f23645" fill-opacity="0.9"/>
<rect x="1057.36" y="107.4" width="4.8" height="14.2" fill="#f23645"/>
<rect x="1066.31" y="113.2" width="1" height="13.2" fill="#f23645" fill-opacity="0.9"/>
<rect x="1064.41" y="120.2" width="4.8" height="4.8" fill="#f23645"/>
<rect x="1073.35" y="117.6" width="1" height="12.3" fill="#089981" fill-opacity="0.9"/>
<rect x="1071.45" y="123.2" width="4.8" height="2.3" fill="#089981"/>
<rect x="1080.39" y="120.2" width="1" height="15.5" fill="#f23645" fill-opacity="0.9"/>
<rect x="1078.49" y="123.2" width="4.8" height="12.5" fill="#f23645"/>
<rect x="1087.43" y="100.0" width="1" height="40.5" fill="#089981" fill-opacity="0.9"/>
<rect x="1085.53" y="105.8" width="4.8" height="29.9" fill="#089981"/>
<rect x="1094.47" y="104.4" width="1" height="31.3" fill="#f23645" fill-opacity="0.9"/>
<rect x="1092.57" y="104.9" width="4.8" height="26.8" fill="#f23645"/>
<rect x="1101.51" y="109.3" width="1" height="26.4" fill="#089981" fill-opacity="0.9"/>
<rect x="1099.61" y="109.3" width="4.8" height="22.4" fill="#089981"/>
<rect x="1108.55" y="118.1" width="1" height="24.7" fill="#089981" fill-opacity="0.9"/>
<rect x="1106.65" y="118.5" width="4.8" height="7.0" fill="#089981"/>
<rect x="1115.60" y="111.2" width="1" height="16.3" fill="#089981" fill-opacity="0.9"/>
<rect x="1113.70" y="121.9" width="4.8" height="5.6" fill="#089981"/>
<rect x="1122.64" y="108.3" width="1" height="14.5" fill="#089981" fill-opacity="0.9"/>
<rect x="1120.74" y="114.9" width="4.8" height="1.2" fill="#089981"/>
<rect x="1129.68" y="101.0" width="1" height="13.0" fill="#089981" fill-opacity="0.9"/>
<rect x="1127.78" y="107.3" width="4.8" height="5.5" fill="#089981"/>
<rect x="1136.72" y="105.6" width="1" height="27.2" fill="#f23645" fill-opacity="0.9"/>
<rect x="1134.82" y="108.1" width="4.8" height="18.2" fill="#f23645"/>
<rect x="1143.76" y="115.7" width="1" height="18.2" fill="#089981" fill-opacity="0.9"/>
<rect x="1141.86" y="121.2" width="4.8" height="4.6" fill="#089981"/>
<rect x="1150.80" y="118.6" width="1" height="9.4" fill="#f23645" fill-opacity="0.9"/>
<rect x="1148.90" y="120.1" width="4.8" height="4.4" fill="#f23645"/>
<rect x="1157.84" y="95.4" width="1" height="29.0" fill="#089981" fill-opacity="0.9"/>
<rect x="1155.94" y="105.6" width="4.8" height="18.8" fill="#089981"/>
<rect x="1164.88" y="93.7" width="1" height="16.1" fill="#089981" fill-opacity="0.9"/>
<rect x="1162.98" y="94.5" width="4.8" height="13.6" fill="#089981"/>
<rect x="1171.93" y="90.1" width="1" height="19.7" fill="#f23645" fill-opacity="0.9"/>
<rect x="1170.03" y="95.4" width="4.8" height="13.2" fill="#f23645"/>
<rect x="1178.97" y="102.8" width="1" height="12.0" fill="#f23645" fill-opacity="0.9"/>
<rect x="1177.07" y="108.6" width="4.8" height="4.1" fill="#f23645"/>
<rect x="1186.01" y="99.3" width="1" height="21.3" fill="#089981" fill-opacity="0.9"/>
<rect x="1184.11" y="101.9" width="4.8" height="10.6" fill="#089981"/>
<rect x="1193.05" y="98.1" width="1" height="11.7" fill="#089981" fill-opacity="0.9"/>
<rect x="1191.15" y="101.0" width="4.8" height="1.0" fill="#089981"/>
<rect x="1200.09" y="91.9" width="1" height="14.1" fill="#089981" fill-opacity="0.9"/>
<rect x="1198.19" y="94.9" width="4.8" height="7.6" fill="#089981"/>
<rect x="1207.13" y="65.2" width="1" height="31.1" fill="#089981" fill-opacity="0.9"/>
<rect x="1205.23" y="68.1" width="4.8" height="27.0" fill="#089981"/>
<rect x="1214.17" y="54.1" width="1" height="28.1" fill="#f23645" fill-opacity="0.9"/>
<rect x="1212.27" y="70.3" width="4.8" height="11.9" fill="#f23645"/>
<rect x="1221.21" y="72.5" width="1" height="25.2" fill="#f23645" fill-opacity="0.9"/>
<rect x="1219.31" y="81.9" width="4.8" height="6.5" fill="#f23645"/>
<rect x="1228.26" y="87.1" width="1" height="16.6" fill="#f23645" fill-opacity="0.9"/>
<rect x="1226.36" y="87.1" width="4.8" height="12.7" fill="#f23645"/>
<rect x="1235.30" y="84.0" width="1" height="19.7" fill="#089981" fill-opacity="0.9"/>
<rect x="1233.40" y="84.5" width="4.8" height="15.3" fill="#089981"/>
<rect x="1242.34" y="79.9" width="1" height="9.7" fill="#089981" fill-opacity="0.9"/>
<rect x="1240.44" y="81.0" width="4.8" height="6.0" fill="#089981"/>
<rect x="1249.38" y="79.9" width="1" height="23.8" fill="#f23645" fill-opacity="0.9"/>
<rect x="1247.48" y="80.8" width="4.8" height="20.8" fill="#f23645"/>
<rect x="1256.42" y="96.3" width="1" height="28.5" fill="#f23645" fill-opacity="0.9"/>
<rect x="1254.52" y="101.0" width="4.8" height="18.7" fill="#f23645"/>
<rect x="1263.46" y="109.1" width="1" height="12.7" fill="#089981" fill-opacity="0.9"/>
<rect x="1261.56" y="110.0" width="4.8" height="11.8" fill="#089981"/>
<rect x="1270.50" y="96.3" width="1" height="14.6" fill="#089981" fill-opacity="0.9"/>
<rect x="1268.60" y="104.2" width="4.8" height="6.7" fill="#089981"/>
<rect x="1277.55" y="94.5" width="1" height="12.7" fill="#089981" fill-opacity="0.9"/>
<rect x="1275.65" y="101.9" width="4.8" height="2.3" fill="#089981"/>
<rect x="1284.59" y="91.0" width="1" height="15.5" fill="#f23645" fill-opacity="0.9"/>
<rect x="1282.69" y="101.0" width="4.8" height="2.7" fill="#f23645"/>
<rect x="1291.63" y="95.4" width="1" height="19.4" fill="#f23645" fill-opacity="0.9"/>
<rect x="1289.73" y="103.0" width="4.8" height="4.2" fill="#f23645"/>
<rect x="1298.67" y="95.4" width="1" height="12.3" fill="#089981" fill-opacity="0.9"/>
<rect x="1296.77" y="99.8" width="4.8" height="7.9" fill="#089981"/>
<rect x="1305.71" y="102.8" width="1" height="20.0" fill="#f23645" fill-opacity="0.9"/>
<rect x="1303.81" y="104.7" width="4.8" height="3.0" fill="#f23645"/>
<rect x="1312.75" y="106.5" width="1" height="17.4" fill="#f23645" fill-opacity="0.9"/>
<rect x="1310.85" y="109.2" width="4.8" height="13.8" fill="#f23645"/>
<rect x="1319.79" y="120.1" width="1" height="16.6" fill="#f23645" fill-opacity="0.9"/>
<rect x="1317.89" y="122.0" width="4.8" height="6.9" fill="#f23645"/>
<rect x="1326.83" y="124.1" width="1" height="27.6" fill="#f23645" fill-opacity="0.9"/>
<rect x="1324.93" y="129.7" width="4.8" height="16.9" fill="#f23645"/>
<rect x="1333.88" y="128.8" width="1" height="19.1" fill="#089981" fill-opacity="0.9"/>
<rect x="1331.98" y="132.0" width="4.8" height="15.9" fill="#089981"/>
<rect x="1340.92" y="128.7" width="1" height="18.2" fill="#f23645" fill-opacity="0.9"/>
<rect x="1339.02" y="133.1" width="4.8" height="11.9" fill="#f23645"/>
<rect x="1347.96" y="132.1" width="1" height="19.4" fill="#089981" fill-opacity="0.9"/>
<rect x="1346.06" y="135.0" width="4.8" height="10.4" fill="#089981"/>
<rect x="1355.00" y="124.1" width="1" height="11.7" fill="#089981" fill-opacity="0.9"/>
<rect x="1353.10" y="124.1" width="4.8" height="10.7" fill="#089981"/>
<rect x="1362.04" y="112.1" width="1" height="13.6" fill="#089981" fill-opacity="0.9"/>
<rect x="1360.14" y="114.0" width="4.8" height="11.5" fill="#089981"/>
<rect x="1369.08" y="103.7" width="1" height="20.0" fill="#f23645" fill-opacity="0.9"/>
<rect x="1367.18" y="114.0" width="4.8" height="9.7" fill="#f23645"/>
<rect x="1376.12" y="116.5" width="1" height="10.1" fill="#f23645" fill-opacity="0.9"/>
<rect x="1374.22" y="119.0" width="4.8" height="7.6" fill="#f23645"/>
<rect x="1383.16" y="122.1" width="1" height="15.8" fill="#f23645" fill-opacity="0.9"/>
<rect x="1381.26" y="125.5" width="4.8" height="12.4" fill="#f23645"/>
<rect x="1390.21" y="129.8" width="1" height="12.5" fill="#089981" fill-opacity="0.9"/>
<rect x="1388.31" y="133.9" width="4.8" height="4.0" fill="#089981"/>
<rect x="1397.25" y="130.6" width="1" height="10.0" fill="#089981" fill-opacity="0.9"/>
<rect x="1395.35" y="131.8" width="4.8" height="2.9" fill="#089981"/>
<rect x="1404.29" y="123.9" width="1" height="11.9" fill="#089981" fill-opacity="0.9"/>
<rect x="1402.39" y="129.0" width="4.8" height="3.7" fill="#089981"/>
</g>
<line x1="2" y1="129.9" x2="1478" y2="129.9" stroke="#089981" stroke-width="1" stroke-dasharray="1 1" opacity="0.85"/>
<polyline points="-3.3,618.0 3.6,597.0 10.6,596.3 17.7,597.6 24.7,596.7 31.7,583.5 38.8,585.3 45.8,597.9 52.9,602.0 59.9,602.9 66.9,611.3 74.0,624.0 81.0,605.5 88.1,602.0 95.1,605.5 102.1,616.0 109.2,619.6 116.2,607.8 123.3,602.0 130.3,591.4 137.4,586.5 144.4,588.4 151.4,595.8 158.5,600.7 165.5,587.5 172.6,596.3 179.6,595.5 186.6,587.0 193.7,593.7 200.7,609.0 207.8,614.3 214.8,595.8 221.9,579.6 228.9,563.8 235.9,565.4 243.0,560.6 250.0,562.9 257.1,557.1 264.1,563.6 271.1,570.0 278.2,567.3 285.2,563.6 292.3,561.9 299.3,575.6 306.3,580.9 313.4,587.9 320.4,594.6 327.5,595.5 334.5,598.5 341.6,590.5 348.6,587.0 355.6,592.3 362.7,594.9 369.7,584.4 376.8,566.8 383.8,579.5 390.8,585.6 397.9,579.6 404.9,582.1 412.0,558.9 419.0,550.1 426.0,553.1 433.1,564.7 440.1,557.5 447.2,569.1 454.2,566.4 461.3,557.6 468.3,570.0 475.3,583.9 482.4,578.6 489.4,581.7 496.5,577.0 503.5,594.4 510.5,590.0 517.6,600.7 524.6,594.6 531.7,600.7 538.7,590.0 545.8,602.9 552.8,606.0 559.8,601.6 566.9,624.0 573.9,605.8 581.0,606.4 588.0,605.1 595.0,606.7 602.1,600.7 609.1,597.6 616.2,613.4 623.2,598.5 630.2,592.8 637.3,591.8 644.3,596.3 651.4,599.9 658.4,593.5 665.5,595.8 672.5,588.8 679.5,595.5 686.6,592.3 693.6,589.7 700.7,594.9 707.7,592.7 714.7,592.3 721.8,586.5 728.8,578.2 735.9,583.1 742.9,581.7 749.9,593.2 757.0,593.2 764.0,591.4 771.1,588.3 778.1,582.6 785.2,578.8 792.2,573.5 799.2,569.8 806.3,568.5 813.3,562.0 820.4,560.6 827.4,562.4 834.4,571.7 841.5,570.0 848.5,584.0 855.6,582.1 862.6,584.0 869.6,587.9 876.7,590.5 883.7,596.2 890.8,608.5 897.8,602.3 904.9,609.4 911.9,603.7 918.9,591.4 926.0,582.6 933.0,580.5 940.1,584.4 947.1,587.4 954.1,616.0 961.2,621.9 968.2,638.0 975.3,636.7 982.3,608.1 989.4,610.2 996.4,609.9 1003.4,597.9 1010.5,597.2 1017.5,601.1 1024.6,605.0 1031.6,596.3 1038.6,591.9 1045.7,601.6 1052.7,593.2 1059.8,600.7 1066.8,603.2 1073.8,602.5 1080.9,610.2 1087.9,592.7 1095.0,608.1 1102.0,596.3 1109.1,601.4 1116.1,603.4 1123.1,599.3 1130.2,595.8 1137.2,607.3 1144.3,603.7 1151.3,605.8 1158.3,594.9 1165.4,588.8 1172.4,598.5 1179.5,601.1 1186.5,594.9 1193.5,594.6 1200.6,590.9 1207.6,576.5 1214.7,587.6 1221.7,592.3 1228.8,599.7 1235.8,591.1 1242.8,589.3 1249.9,603.7 1256.9,614.6 1264.0,608.7 1271.0,604.3 1278.0,602.9 1285.1,603.7 1292.1,606.9 1299.2,601.4 1306.2,608.7 1313.3,617.5 1320.3,622.2 1327.3,631.9 1334.4,619.9 1341.4,627.1 1348.5,618.7 1355.5,610.2 1362.5,603.4 1369.6,609.4 1376.6,612.0 1383.7,619.0 1390.7,616.6 1397.7,614.3 1404.8,612.2" fill="none" stroke="#7e57c2" stroke-width="1.9" stroke-linejoin="round" stroke-linecap="round"/>
<line x1="1" y1="612.6" x2="1478" y2="612.6" stroke="#7443c8" stroke-width="1.7" stroke-dasharray="1.5 4.04"/>
<text x="1486.3" y="37.9" font-size="11.4" fill="#131722" text-anchor="start" font-weight="normal" stroke="#131722" stroke-width="0.3" textLength="40.8" lengthAdjust="spacingAndGlyphs">1.20000</text>
<text x="1486.3" y="192.1" font-size="11.4" fill="#131722" text-anchor="start" font-weight="normal" stroke="#131722" stroke-width="0.3" textLength="40.8" lengthAdjust="spacingAndGlyphs">1.14000</text>
<text x="1486.3" y="243.49999999999997" font-size="11.4" fill="#131722" text-anchor="start" font-weight="normal" stroke="#131722" stroke-width="0.3" textLength="40.8" lengthAdjust="spacingAndGlyphs">1.12000</text>
<text x="1486.3" y="294.90000000000003" font-size="11.4" fill="#131722" text-anchor="start" font-weight="normal" stroke="#131722" stroke-width="0.3" textLength="40.8" lengthAdjust="spacingAndGlyphs">1.10000</text>
<text x="1486.3" y="346.3" font-size="11.4" fill="#131722" text-anchor="start" font-weight="normal" stroke="#131722" stroke-width="0.3" textLength="40.8" lengthAdjust="spacingAndGlyphs">1.08000</text>
<text x="1486.3" y="397.70000000000005" font-size="11.4" fill="#131722" text-anchor="start" font-weight="normal" stroke="#131722" stroke-width="0.3" textLength="40.8" lengthAdjust="spacingAndGlyphs">1.06000</text>
<text x="1486.3" y="449.1" font-size="11.4" fill="#131722" text-anchor="start" font-weight="normal" stroke="#131722" stroke-width="0.3" textLength="40.8" lengthAdjust="spacingAndGlyphs">1.04000</text>
<text x="1486.3" y="500.5" font-size="11.4" fill="#131722" text-anchor="start" font-weight="normal" stroke="#131722" stroke-width="0.3" textLength="40.8" lengthAdjust="spacingAndGlyphs">1.02000</text>
<path d="M1478 72 V57 a2 2 0 0 1 2 -2 H1531 a2 2 0 0 1 2 2 V72Z" fill="#000"/>
<text x="1487" y="67.65" font-size="11.4" fill="#fff" text-anchor="start" font-weight="normal" stroke="#fff" stroke-width="0.4" textLength="40.7" lengthAdjust="spacingAndGlyphs">1.18300</text>
<rect x="1478" y="71.5" width="55" height="16.900000000000006" fill="#000"/>
<text x="1487" y="84.10000000000001" font-size="11.4" fill="#fff" text-anchor="start" font-weight="normal" stroke="#fff" stroke-width="0.4" textLength="40.7" lengthAdjust="spacingAndGlyphs">1.17890</text>
<rect x="1478" y="88.4" width="55" height="16.39999999999999" fill="#ff6d00"/>
<text x="1487" y="100.75" font-size="11.4" fill="#fff" text-anchor="start" font-weight="normal" stroke="#fff" stroke-width="0.4" textLength="40.7" lengthAdjust="spacingAndGlyphs">1.16886</text>
<rect x="1478" y="104.8" width="55" height="17.0" fill="#2196f3"/>
<text x="1487" y="117.45" font-size="11.4" fill="#fff" text-anchor="start" font-weight="normal" stroke="#fff" stroke-width="0.4" textLength="40.7" lengthAdjust="spacingAndGlyphs">1.16600</text>
<rect x="1478" y="121.8" width="55" height="16.60000000000001" fill="#089981"/>
<text x="1487" y="134.25" font-size="11.4" fill="#fff" text-anchor="start" font-weight="normal" stroke="#fff" stroke-width="0.4" textLength="40.7" lengthAdjust="spacingAndGlyphs">1.16284</text>
<rect x="1478" y="138.4" width="55" height="2" fill="#4fb3a3"/>
<path d="M1478 140 H1533 V154.8 a2 2 0 0 1 -2 2 H1480 a2 2 0 0 1 -2 -2Z" fill="#000"/>
<text x="1487" y="152.55" font-size="11.4" fill="#fff" text-anchor="start" font-weight="normal" stroke="#fff" stroke-width="0.4" textLength="40.7" lengthAdjust="spacingAndGlyphs">1.15568</text>
<path d="M1478 209.4 H1531 a2 2 0 0 1 2 2 V224.9 a2 2 0 0 1 -2 2 H1478Z" fill="#26c6da"/>
<text x="1487" y="222.3" font-size="11.4" fill="#131722" text-anchor="start" font-weight="normal" stroke="#131722" stroke-width="0.4" textLength="40.7" lengthAdjust="spacingAndGlyphs">1.12848</text>
<text x="1471.8" y="73.0" font-size="9.5" fill="#131722" text-anchor="end" font-weight="normal" stroke="#131722" stroke-width="0.3" textLength="19.6" lengthAdjust="spacingAndGlyphs">Jul 1</text>
<text x="1472.3" y="99.6" font-size="9.5" fill="#131722" text-anchor="end" font-weight="normal" stroke="#131722" stroke-width="0.3" textLength="25.5" lengthAdjust="spacingAndGlyphs">Jul 24</text>
<text x="1472.3" y="142.6" font-size="9.5" fill="#131722" text-anchor="end" font-weight="normal" stroke="#131722" stroke-width="0.3" textLength="25.5" lengthAdjust="spacingAndGlyphs">Jul 17</text>
<text x="1485.7" y="550.5" font-size="11.4" fill="#131722" text-anchor="start" font-weight="normal" stroke="#131722" stroke-width="0.2" textLength="29.2" lengthAdjust="spacingAndGlyphs">80.00</text>
<text x="1485.7" y="590.1" font-size="11.4" fill="#131722" text-anchor="start" font-weight="normal" stroke="#131722" stroke-width="0.2" textLength="29.2" lengthAdjust="spacingAndGlyphs">60.00</text>
<text x="1485.7" y="629.2" font-size="11.4" fill="#131722" text-anchor="start" font-weight="normal" stroke="#131722" stroke-width="0.2" textLength="29.2" lengthAdjust="spacingAndGlyphs">40.00</text>
<path d="M1478 603.9 H1518 a2 2 0 0 1 2 2 V619.2 a2 2 0 0 1 -2 2 H1478 Z" fill="#7e57c2"/>
<text x="1486.1" y="616.8" font-size="11.4" fill="#fff" text-anchor="start" font-weight="bold" textLength="28.8" lengthAdjust="spacingAndGlyphs">46.31</text>
<text x="74" y="671.8" font-size="12" fill="#131722" text-anchor="middle" font-weight="normal" stroke="#131722" stroke-width="0.4" textLength="18.8" lengthAdjust="spacingAndGlyphs">Feb</text>
<text x="214.8" y="671.8" font-size="12" fill="#131722" text-anchor="middle" font-weight="normal" stroke="#131722" stroke-width="0.4" textLength="19.5" lengthAdjust="spacingAndGlyphs">Mar</text>
<text x="362.9" y="671.8" font-size="12" fill="#131722" text-anchor="middle" font-weight="normal" stroke="#131722" stroke-width="0.4" textLength="19.2" lengthAdjust="spacingAndGlyphs">Apr</text>
<text x="440" y="671.8" font-size="12" fill="#131722" text-anchor="middle" font-weight="normal" textLength="11.5" lengthAdjust="spacingAndGlyphs">16</text>
<text x="517.5" y="671.8" font-size="12" fill="#131722" text-anchor="middle" font-weight="normal" stroke="#131722" stroke-width="0.4" textLength="21" lengthAdjust="spacingAndGlyphs">May</text>
<text x="595" y="671.8" font-size="12" fill="#131722" text-anchor="middle" font-weight="normal" textLength="11.5" lengthAdjust="spacingAndGlyphs">16</text>
<text x="672.5" y="671.8" font-size="12" fill="#131722" text-anchor="middle" font-weight="normal" stroke="#131722" stroke-width="0.4" textLength="19" lengthAdjust="spacingAndGlyphs">Jun</text>
<text x="820" y="671.8" font-size="12" fill="#131722" text-anchor="middle" font-weight="normal" stroke="#131722" stroke-width="0.4" textLength="16" lengthAdjust="spacingAndGlyphs">Jul</text>
<text x="898" y="671.8" font-size="12" fill="#131722" text-anchor="middle" font-weight="normal" textLength="11.5" lengthAdjust="spacingAndGlyphs">16</text>
<text x="982" y="671.8" font-size="12" fill="#131722" text-anchor="middle" font-weight="normal" stroke="#131722" stroke-width="0.4" textLength="20.3" lengthAdjust="spacingAndGlyphs">Aug</text>
<text x="1130" y="671.8" font-size="12" fill="#131722" text-anchor="middle" font-weight="normal" stroke="#131722" stroke-width="0.4" textLength="19.5" lengthAdjust="spacingAndGlyphs">Sep</text>
<text x="1207" y="671.8" font-size="12" fill="#131722" text-anchor="middle" font-weight="normal" textLength="11.5" lengthAdjust="spacingAndGlyphs">16</text>
<text x="1285.5" y="671.8" font-size="12" fill="#131722" text-anchor="middle" font-weight="normal" stroke="#131722" stroke-width="0.4" textLength="18" lengthAdjust="spacingAndGlyphs">Oct</text>
<text x="1363" y="671.8" font-size="12" fill="#131722" text-anchor="middle" font-weight="normal" textLength="11.5" lengthAdjust="spacingAndGlyphs">16</text>
<text x="1461.5" y="671.8" font-size="12" fill="#131722" text-anchor="middle" font-weight="normal" stroke="#131722" stroke-width="0.4" textLength="20" lengthAdjust="spacingAndGlyphs">Nov</text>
<text x="8.3" y="19.2" font-size="11" fill="#131722" text-anchor="start" font-weight="normal" stroke="#131722" stroke-width="0.2" textLength="67.7" lengthAdjust="spacingAndGlyphs">EUR/USD, 1D</text>
<text x="83.3" y="19.2" font-size="11" fill="#131722" text-anchor="start" font-weight="normal" stroke="#131722" stroke-width="0.2" textLength="7.4" lengthAdjust="spacingAndGlyphs">O</text>
<text x="92" y="19.2" font-size="11" fill="#089981" text-anchor="start" font-weight="normal" stroke="#089981" stroke-width="0.2" textLength="39" lengthAdjust="spacingAndGlyphs">1.16168</text>
<text x="139.3" y="19.2" font-size="11" fill="#131722" text-anchor="start" font-weight="normal" stroke="#131722" stroke-width="0.2" textLength="6.7" lengthAdjust="spacingAndGlyphs">H</text>
<text x="147.3" y="19.2" font-size="11" fill="#089981" text-anchor="start" font-weight="normal" stroke="#089981" stroke-width="0.2" textLength="39.4" lengthAdjust="spacingAndGlyphs">1.16494</text>
<text x="194.7" y="19.2" font-size="11" fill="#131722" text-anchor="start" font-weight="normal" stroke="#131722" stroke-width="0.2" textLength="4.6" lengthAdjust="spacingAndGlyphs">L</text>
<text x="200.7" y="19.2" font-size="11" fill="#089981" text-anchor="start" font-weight="normal" stroke="#089981" stroke-width="0.2" textLength="39.0" lengthAdjust="spacingAndGlyphs">1.16009</text>
<text x="247.7" y="19.2" font-size="11" fill="#131722" text-anchor="start" font-weight="normal" stroke="#131722" stroke-width="0.2" textLength="6.3" lengthAdjust="spacingAndGlyphs">C</text>
<text x="255.7" y="19.2" font-size="11" fill="#089981" text-anchor="start" font-weight="normal" stroke="#089981" stroke-width="0.2" textLength="39.0" lengthAdjust="spacingAndGlyphs">1.16284</text>
<text x="302.7" y="19.2" font-size="11" fill="#089981" text-anchor="start" font-weight="normal" stroke="#089981" stroke-width="0.2" textLength="46.0" lengthAdjust="spacingAndGlyphs">+0.00102</text>
<text x="353.3" y="19.2" font-size="11" fill="#089981" text-anchor="start" font-weight="normal" stroke="#089981" stroke-width="0.2" textLength="43.0" lengthAdjust="spacingAndGlyphs">(+0.09%)</text>
<text x="8.3" y="35.7" font-size="11" fill="#131722" text-anchor="start" font-weight="normal" stroke="#131722" stroke-width="0.2" textLength="231.4" lengthAdjust="spacingAndGlyphs">Moving Average Triple (50, 100, 200, Simple)</text>
<text x="247.7" y="35.7" font-size="11" fill="#ff6d00" text-anchor="start" font-weight="normal" stroke="#ff6d00" stroke-width="0.2" textLength="39.0" lengthAdjust="spacingAndGlyphs">1.16886</text>
<text x="295.3" y="35.7" font-size="11" fill="#2196f3" text-anchor="start" font-weight="normal" stroke="#2196f3" stroke-width="0.2" textLength="39.4" lengthAdjust="spacingAndGlyphs">1.16600</text>
<text x="343" y="35.7" font-size="11" fill="#26c6da" text-anchor="start" font-weight="normal" stroke="#26c6da" stroke-width="0.2" textLength="39.7" lengthAdjust="spacingAndGlyphs">1.12848</text>
<text x="8.4" y="557.3" font-size="11" fill="#131722" text-anchor="start" font-weight="normal" stroke="#131722" stroke-width="0.2" textLength="38.7" lengthAdjust="spacingAndGlyphs">RSI (14)</text>
<text x="55.4" y="557.3" font-size="11" fill="#7e57c2" text-anchor="start" font-weight="normal" stroke="#7e57c2" stroke-width="0.2" textLength="26.9" lengthAdjust="spacingAndGlyphs">46.31</text>
<path fill-rule="evenodd" fill="#eceef2" d="M0 0H1536V682H0Z M3.3 1.5 H1532 a2 2 0 0 1 2 2 V677.7 a2 2 0 0 1 -2 2 H3.3 a2 2 0 0 1 -2 -2 V3.5 a2 2 0 0 1 2 -2Z"/>
</svg>
</div>
</body></html>
